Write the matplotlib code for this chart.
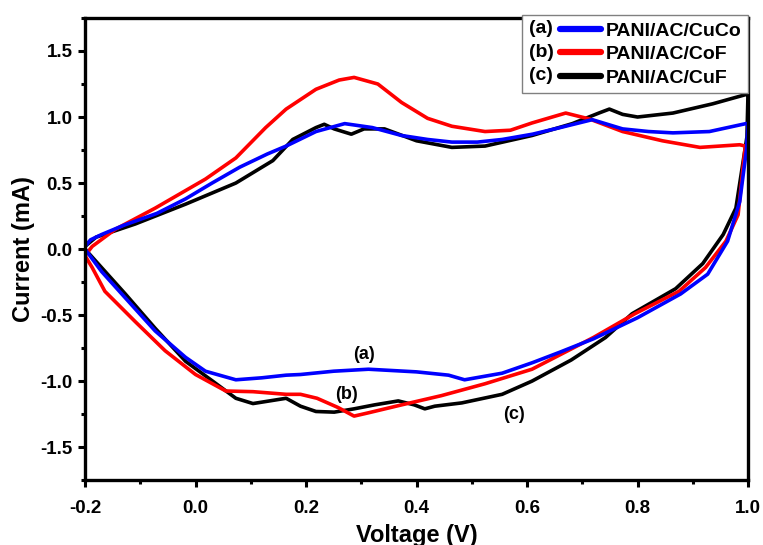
import matplotlib
matplotlib.use('Agg')
import matplotlib.pyplot as plt
from matplotlib.legend_handler import HandlerLine2D
from matplotlib.lines import Line2D
from matplotlib.text import Text
from matplotlib.ticker import MultipleLocator

plt.rcParams['font.family'] = ['Liberation Sans', 'DejaVu Sans']
plt.rcParams['font.weight'] = 'bold'
plt.rcParams['axes.unicode_minus'] = False

# CV loops: forward sweep -0.2 -> 1.0 V, then reverse sweep back to -0.2 V
v_a = [-0.2, -0.19, -0.17, -0.13, -0.07, -0.018, 0.03, 0.08, 0.13, 0.164, 0.218, 0.27, 0.32,
       0.373, 0.42, 0.464, 0.51, 0.555, 0.61, 0.66, 0.718, 0.773, 0.82, 0.864, 0.93, 0.996,
       1.0, 0.997, 0.985, 0.963, 0.927, 0.878, 0.80, 0.72, 0.66, 0.61, 0.555, 0.487,
       0.458, 0.40, 0.313, 0.25, 0.19, 0.164, 0.12, 0.073, 0.018, -0.018, -0.073, -0.127,
       -0.17, -0.2]
i_a = [0.02, 0.07, 0.11, 0.18, 0.27, 0.38, 0.50, 0.62, 0.72, 0.78, 0.89, 0.95, 0.92,
       0.86, 0.83, 0.81, 0.81, 0.83, 0.87, 0.92, 0.98, 0.91, 0.89, 0.88, 0.89, 0.95,
       0.95, 0.75, 0.36, 0.06, -0.19, -0.34, -0.52, -0.68, -0.78, -0.86, -0.94, -0.99,
       -0.955, -0.93, -0.91, -0.925, -0.95, -0.955, -0.975, -0.99, -0.925, -0.82, -0.62, -0.37,
       -0.17, 0.0]

v_b = [-0.2, -0.187, -0.145, -0.073, 0.018, 0.073, 0.127, 0.164, 0.218, 0.26, 0.287,
       0.33, 0.373, 0.42, 0.464, 0.524, 0.57, 0.609, 0.67, 0.713, 0.773, 0.845, 0.913,
       0.985, 0.995, 0.982, 0.96, 0.923, 0.875, 0.795, 0.72, 0.66, 0.609, 0.524, 0.445,
       0.373, 0.313, 0.287, 0.258, 0.22, 0.19, 0.164, 0.104, 0.055, 0.0, -0.055, -0.109,
       -0.164, -0.187, -0.2]
i_b = [-0.05, 0.02, 0.15, 0.31, 0.53, 0.69, 0.92, 1.06, 1.21, 1.28, 1.30,
       1.25, 1.11, 0.99, 0.93, 0.89, 0.90, 0.955, 1.03, 0.985, 0.89, 0.82, 0.77,
       0.79, 0.78, 0.26, 0.06, -0.14, -0.32, -0.49, -0.67, -0.80, -0.91, -1.02, -1.11,
       -1.18, -1.24, -1.265, -1.20, -1.13, -1.10, -1.10, -1.08, -1.075, -0.95, -0.77, -0.55,
       -0.32, -0.14, -0.05]

v_c = [-0.2, -0.18, -0.109, -0.018, 0.073, 0.14, 0.176, 0.218, 0.233, 0.251, 0.282,
       0.305, 0.342, 0.40, 0.464, 0.524, 0.609, 0.682, 0.73, 0.749, 0.773, 0.80, 0.864,
       0.936, 0.996, 1.0, 0.998, 0.978, 0.955, 0.918, 0.869, 0.79, 0.742, 0.68, 0.609,
       0.555, 0.482, 0.433, 0.415, 0.396, 0.367, 0.324, 0.287, 0.251, 0.218, 0.19, 0.164,
       0.104, 0.073, 0.031, -0.018, -0.073, -0.127, -0.17, -0.2]
i_c = [0.02, 0.09, 0.19, 0.34, 0.50, 0.67, 0.83, 0.92, 0.945, 0.91, 0.87,
       0.91, 0.91, 0.82, 0.77, 0.78, 0.86, 0.95, 1.03, 1.06, 1.02, 1.00, 1.03,
       1.10, 1.17, 1.19, 0.85, 0.31, 0.11, -0.11, -0.30, -0.49, -0.67, -0.84, -1.00,
       -1.10, -1.165, -1.19, -1.21, -1.18, -1.15, -1.18, -1.21, -1.235, -1.23, -1.19, -1.13,
       -1.17, -1.13, -1.00, -0.85, -0.60, -0.34, -0.14, 0.0]

names = ['PANI/AC/CuCo', 'PANI/AC/CoF', 'PANI/AC/CuF']
tags = ['(a)', '(b)', '(c)']
colors = ['#0000ff', '#ff0000', '#000000']


class TaggedLine(HandlerLine2D):
    """Legend handle drawn as a '(x)' tag followed by a short line."""

    def __init__(self, tag, **kw):
        super().__init__(**kw)
        self.tag = tag

    def create_artists(self, legend, orig_handle, xdescent, ydescent,
                       width, height, fontsize, trans):
        y = (height - ydescent) / 2.0
        x0 = -xdescent
        seg = Line2D([x0 + 0.43 * width, x0 + width], [y, y],
                     color=orig_handle.get_color(), linewidth=4.5,
                     solid_capstyle='round')
        seg.set_transform(trans)
        txt = Text(x0, y, self.tag, ha='left', va='center',
                   fontsize=fontsize, fontweight='bold')
        txt.set_transform(trans)
        return [txt, seg]


fig = plt.figure(figsize=(7.63, 5.45), dpi=100)
ax = fig.add_axes([0.1114, 0.119, 0.869, 0.848])

lines = []
for v, i, c, n in zip([v_c, v_b, v_a], [i_c, i_b, i_a], colors[::-1], names[::-1]):
    ln, = ax.plot(v, i, color=c, linewidth=2.6, label=n,
                  solid_joinstyle='round', solid_capstyle='round')
    lines.append(ln)
lines = lines[::-1]

ax.set_xlim(-0.2, 1.0)
ax.set_ylim(-1.75, 1.75)
ax.xaxis.set_major_locator(MultipleLocator(0.2))
ax.xaxis.set_minor_locator(MultipleLocator(0.1))
ax.yaxis.set_major_locator(MultipleLocator(0.5))
ax.yaxis.set_minor_locator(MultipleLocator(0.25))
ax.tick_params(which='major', direction='out', length=5, width=2.2,
               labelsize=13.5, pad=4)
ax.tick_params(axis='x', which='major', pad=9)
ax.tick_params(which='minor', direction='out', length=3, width=2.2)
for s in ax.spines.values():
    s.set_linewidth(2.4)

ax.set_xlabel('Voltage (V)', fontsize=17, fontweight='bold', labelpad=5)
ax.set_ylabel('Current (mA)', fontsize=17, fontweight='bold', labelpad=4)

# curve tags on the reverse sweep
ax.text(0.305, -0.80, '(a)', fontsize=13, fontweight='bold', ha='center', va='center')
ax.text(0.273, -1.10, '(b)', fontsize=13, fontweight='bold', ha='center', va='center')
ax.text(0.576, -1.25, '(c)', fontsize=13, fontweight='bold', ha='center', va='center')

leg = ax.legend(lines, names, loc='upper right', bbox_to_anchor=(1.0, 1.006),
                borderaxespad=0, fontsize=14, handlelength=3.7, handletextpad=0.25,
                labelspacing=0.3, borderpad=0.35, fancybox=False, framealpha=1,
                edgecolor='#808080',
                handler_map={ln: TaggedLine(t) for ln, t in zip(lines, tags)})
leg.get_frame().set_linewidth(1.0)

fig.savefig('out.png', dpi=100)
